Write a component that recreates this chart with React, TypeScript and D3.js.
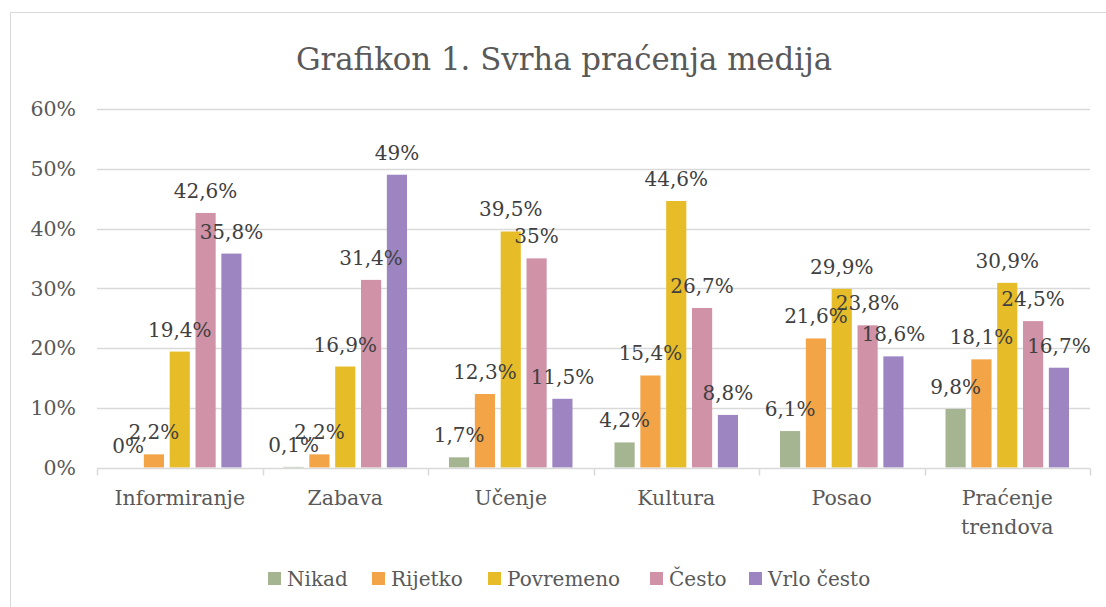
import * as React from "react";
import * as d3 from "d3";

const categories: string[] = ["Informiranje", "Zabava", "Učenje", "Kultura", "Posao", "Praćenje trendova"];
const seriesNames: string[] = ["Nikad", "Rijetko", "Povremeno", "Često", "Vrlo često"];
const seriesColors: string[] = ["#A5B592", "#F3A447", "#E7BC29", "#D092A7", "#9C85C0"];

const nikad: number[] = [0, 0.1, 1.7, 4.2, 6.1, 9.8];
const rijetko: number[] = [2.2, 2.2, 12.3, 15.4, 21.6, 18.1];
const povremeno: number[] = [19.4, 16.9, 39.5, 44.6, 29.9, 30.9];
const cesto: number[] = [42.6, 31.4, 35, 26.7, 23.8, 24.5];
const vrloCesto: number[] = [35.8, 49, 11.5, 8.8, 18.6, 16.7];

const yTicks: number[] = [0, 10, 20, 30, 40, 50, 60];

const W = 1106;
const H = 607;
const FONT = "'DejaVu Serif', serif";
const TEXT = "#595959";
const GRID = "#D9D9D9";

export default function App(): JSX.Element {
  const ref = React.useRef<SVGSVGElement>(null);

  React.useEffect(() => {
    const svg = d3.select(ref.current);
    svg.selectAll("*").remove();

    const values: number[][] = [nikad, rijetko, povremeno, cesto, vrloCesto];
    const margin = { left: 97, right: 16, top: 109, bottom: 139 };

    svg.append("rect")
      .attr("x", 10.5).attr("y", 12.5)
      .attr("width", W + 20).attr("height", H + 20)
      .attr("fill", "#fff").attr("stroke", GRID);

    svg.append("text")
      .attr("x", 564).attr("y", 70)
      .attr("text-anchor", "middle")
      .attr("font-family", FONT).attr("font-size", 30.8)
      .attr("fill", TEXT)
      .text("Grafikon 1. Svrha praćenja medija");

    const y = d3.scaleLinear().domain([0, 60]).range([H - margin.bottom + 0.5 - 1, margin.top]);
    const x0 = d3.scaleBand<string>().domain(categories).range([margin.left, W - margin.right]);
    const bw = x0.bandwidth();
    const x1 = d3.scaleBand<string>().domain(seriesNames).range([21, bw - 21]).paddingInner(0.22);

    // gridlines + y labels
    const g = svg.append("g");
    yTicks.forEach((t: number) => {
      if (t > 0) {
        g.append("line")
          .attr("x1", margin.left).attr("x2", W - margin.right)
          .attr("y1", Math.round(y(t)) + 0.5).attr("y2", Math.round(y(t)) + 0.5)
          .attr("stroke", GRID).attr("stroke-width", 1.5);
      }
      g.append("text")
        .attr("x", 76).attr("y", y(t))
        .attr("dy", "0.36em")
        .attr("text-anchor", "end")
        .attr("font-family", FONT).attr("font-size", 20.5)
        .attr("fill", TEXT)
        .text(`${t}%`);
    });

    // bars
    values.forEach((vals: number[], si: number) => {
      svg.append("g").selectAll("rect")
        .data(vals)
        .join("rect")
        .attr("x", (_d: number, i: number) => (x0(categories[i]) as number) + (x1(seriesNames[si]) as number))
        .attr("y", (d: number) => y(d))
        .attr("width", x1.bandwidth())
        .attr("height", (d: number) => y(0) - y(d))
        .attr("fill", seriesColors[si]);
    });

    // x axis
    const y0 = Math.round(y(0)) + 0.5;
    svg.append("line")
      .attr("x1", margin.left).attr("x2", W - margin.right)
      .attr("y1", y0).attr("y2", y0)
      .attr("stroke", GRID).attr("stroke-width", 1.5);
    d3.range(categories.length + 1).forEach((i: number) => {
      const xx = Math.round(margin.left + i * bw) + 0.5;
      svg.append("line")
        .attr("x1", xx).attr("x2", xx)
        .attr("y1", y0).attr("y2", y0 + 7)
        .attr("stroke", GRID).attr("stroke-width", 1.5);
    });

    categories.forEach((c: string) => {
      const cx = (x0(c) as number) + bw / 2;
      const lines = c === "Praćenje trendova" ? ["Praćenje", "trendova"] : [c];
      lines.forEach((ln: string, li: number) => {
        svg.append("text")
          .attr("x", cx).attr("y", 505 + li * 29)
          .attr("text-anchor", "middle")
          .attr("font-family", FONT).attr("font-size", 20.5)
          .attr("fill", TEXT)
          .text(ln);
      });
    });

    // data labels
    values.forEach((vals: number[], si: number) => {
      svg.append("g").selectAll("text")
        .data(vals)
        .join("text")
        .attr("x", (_d: number, i: number) => (x0(categories[i]) as number) + (x1(seriesNames[si]) as number) + x1.bandwidth() / 2)
        .attr("y", (d: number) => y(d) - 15)
        .attr("text-anchor", "middle")
        .attr("font-family", FONT).attr("font-size", 20)
        .attr("fill", "#404040")
        .text((d: number) => `${String(d).replace(".", ",")}%`);
    });

    // legend
    const legendX: number[] = [268, 372, 488, 650, 749];
    seriesNames.forEach((s: string, i: number) => {
      svg.append("rect")
        .attr("x", legendX[i]).attr("y", 572)
        .attr("width", 13).attr("height", 13)
        .attr("fill", seriesColors[i]);
      svg.append("text")
        .attr("x", legendX[i] + 19).attr("y", 578.5)
        .attr("dy", "0.36em")
        .attr("font-family", FONT).attr("font-size", 20)
        .attr("fill", TEXT)
        .text(s);
    });
  }, []);

  return (
    <div style={{ position: "absolute", left: 0, top: 0 }}>
      <svg ref={ref} width={W} height={H} style={{ display: "block" }} />
    </div>
  );
}
